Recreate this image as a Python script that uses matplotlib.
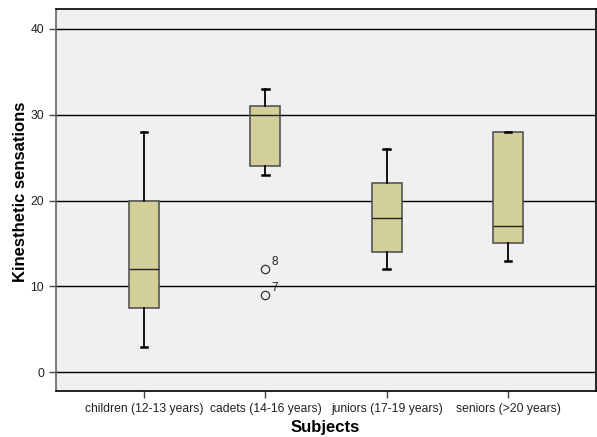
import matplotlib
matplotlib.use("Agg")
import matplotlib.pyplot as plt

# Kinesthetic sensations by age group (box summaries)
groups = ["children (12-13 years)", "cadets (14-16 years)",
          "juniors (17-19 years)", "seniors (>20 years)"]
whisker_low = [3, 23, 12, 13]
q1 = [7.5, 24, 14, 15]
median = [12, 30, 18, 17]
q3 = [20, 31, 22, 28]
whisker_high = [28, 33, 26, 28]
outliers = [[], [12, 9], [], []]
outlier_ids = [[], ["8", "7"], [], []]

plt.rcParams["font.family"] = ["Liberation Sans", "DejaVu Sans"]

fig = plt.figure(figsize=(5.97, 4.37), dpi=100)
ax = fig.add_axes([0.0938, 0.1046, 0.9045, 0.8741])
ax.set_facecolor("#f0f0f0")

stats = []
for i in range(len(groups)):
    stats.append({
        "whislo": whisker_low[i], "q1": q1[i], "med": median[i],
        "q3": q3[i], "whishi": whisker_high[i], "fliers": outliers[i],
    })

positions = list(range(1, len(groups) + 1))
ax.bxp(stats, positions=positions, widths=0.247, patch_artist=True,
       showfliers=True,
       boxprops=dict(facecolor="#d3cf98", edgecolor="#555555", linewidth=1.2),
       medianprops=dict(color="#222222", linewidth=1),
       whiskerprops=dict(color="black", linewidth=1.3),
       capprops=dict(color="black", linewidth=1.8),
       capwidths=0.055,
       flierprops=dict(marker="o", markerfacecolor="none",
                       markeredgecolor="#333333", markersize=6,
                       markeredgewidth=0.9),
       zorder=3)

# outlier case numbers
for i, pts in enumerate(outliers):
    for val, label in zip(pts, outlier_ids[i]):
        ax.annotate(label, (positions[i], val), xytext=(6, 4),
                    textcoords="offset pixels", fontsize=8.5, color="#222222")

ax.set_ylim(-2.2, 42.25)
ax.set_xlim(0.274, 4.724)
ax.set_yticks([0, 10, 20, 30, 40])
ax.yaxis.grid(True, color="black", linewidth=1)
ax.set_axisbelow(True)

ax.set_xticks(positions)
ax.set_xticklabels(groups, fontsize=8.7, color="#222222")
ax.tick_params(axis="y", labelsize=8.7, labelcolor="#222222",
               length=5, width=1, color="#444444")
ax.tick_params(axis="x", length=5, width=1, color="#444444")

for side in ["top", "right"]:
    ax.spines[side].set_color("black")
ax.spines["left"].set_color("#666666")
ax.spines["bottom"].set_color("black")
for s in ax.spines.values():
    s.set_linewidth(1.2)

ax.set_xlabel("Subjects", fontsize=12, fontweight="bold")
ax.set_ylabel("Kinesthetic sensations", fontsize=12, fontweight="bold")
ax.xaxis.set_label_coords(0.499, -0.096)
ax.yaxis.set_label_coords(-0.0665, 0.522)
ax.xaxis.label.set_va("center")
ax.yaxis.label.set_va("center")

fig.savefig("out.png", dpi=100)
